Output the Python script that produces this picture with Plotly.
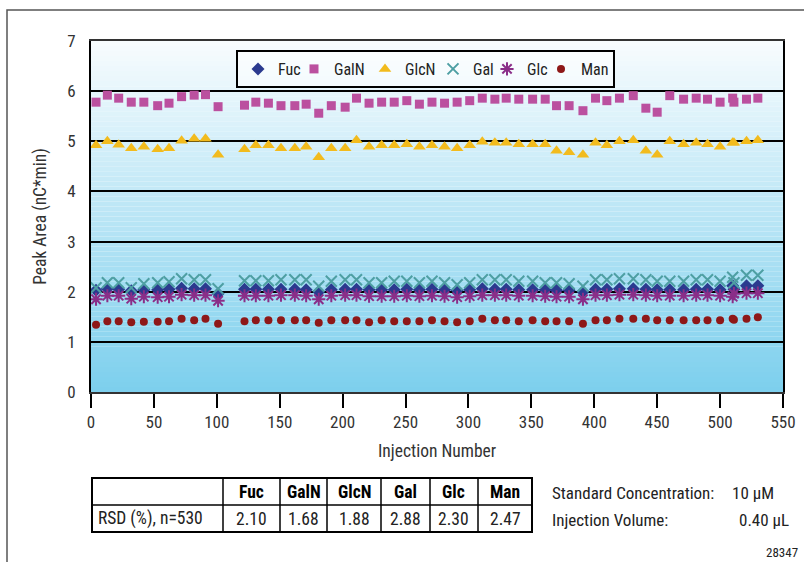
import plotly.graph_objects as go

# ---------------- data ----------------
injection = [4, 13, 22, 32, 42, 53, 62, 72, 82, 91, 101,
             122, 131, 141, 151, 162, 171, 181, 191, 202, 211, 221, 231, 241, 251, 261, 271,
             281, 291, 301, 311, 321, 330, 340, 351, 361, 370, 380, 391, 401, 410, 420, 431,
             441, 450, 460, 471, 481, 490, 500, 510, 511, 521, 530]

fuc = [2.03, 2.06, 2.05, 2.02, 2.04, 2.04, 2.05, 2.07, 2.06, 2.06, 1.96,
       2.05, 2.05, 2.05, 2.05, 2.05, 2.04, 2.00, 2.04, 2.05, 2.05, 2.04, 2.04, 2.04, 2.05, 2.04, 2.05,
       2.04, 2.03, 2.04, 2.06, 2.05, 2.05, 2.04, 2.04, 2.04, 2.03, 2.03, 2.00, 2.05, 2.05, 2.06, 2.06,
       2.05, 2.04, 2.04, 2.04, 2.05, 2.05, 2.04, 2.12, 2.05, 2.12, 2.12]

galn = [5.78, 5.92, 5.86, 5.78, 5.78, 5.71, 5.76, 5.89, 5.92, 5.93, 5.69,
        5.72, 5.78, 5.76, 5.71, 5.71, 5.74, 5.56, 5.71, 5.68, 5.86, 5.76, 5.78, 5.78, 5.81, 5.74, 5.78,
        5.76, 5.78, 5.81, 5.86, 5.84, 5.86, 5.84, 5.84, 5.84, 5.71, 5.71, 5.61, 5.86, 5.81, 5.86, 5.91,
        5.66, 5.58, 5.91, 5.84, 5.86, 5.84, 5.78, 5.86, 5.78, 5.84, 5.86]

glcn = [4.92, 5.00, 4.93, 4.86, 4.89, 4.84, 4.86, 5.01, 5.05, 5.05, 4.73,
        4.84, 4.92, 4.92, 4.86, 4.86, 4.89, 4.68, 4.86, 4.86, 5.02, 4.89, 4.92, 4.92, 4.94, 4.89, 4.92,
        4.89, 4.86, 4.92, 4.99, 4.97, 4.97, 4.94, 4.94, 4.94, 4.81, 4.78, 4.73, 4.97, 4.92, 5.00, 5.02,
        4.81, 4.73, 5.00, 4.94, 4.97, 4.94, 4.89, 4.97, 4.97, 5.00, 5.02]

gal = [2.08, 2.18, 2.18, 2.08, 2.16, 2.18, 2.20, 2.26, 2.24, 2.24, 2.06,
       2.22, 2.22, 2.22, 2.24, 2.24, 2.24, 2.11, 2.21, 2.24, 2.24, 2.18, 2.18, 2.21, 2.21, 2.18, 2.21,
       2.18, 2.14, 2.18, 2.24, 2.24, 2.24, 2.21, 2.21, 2.18, 2.18, 2.16, 2.11, 2.24, 2.24, 2.26, 2.26,
       2.24, 2.21, 2.21, 2.21, 2.24, 2.24, 2.21, 2.29, 2.18, 2.33, 2.33]

glc = [1.85, 1.92, 1.92, 1.86, 1.90, 1.89, 1.90, 1.94, 1.93, 1.93, 1.82,
       1.92, 1.92, 1.92, 1.93, 1.93, 1.92, 1.85, 1.92, 1.93, 1.93, 1.91, 1.91, 1.91, 1.92, 1.91, 1.92,
       1.91, 1.89, 1.91, 1.93, 1.93, 1.93, 1.92, 1.92, 1.91, 1.90, 1.90, 1.85, 1.93, 1.93, 1.94, 1.94,
       1.93, 1.92, 1.92, 1.92, 1.93, 1.93, 1.92, 1.90, 1.96, 1.97, 1.97]

man = [1.34, 1.41, 1.41, 1.39, 1.40, 1.40, 1.41, 1.46, 1.43, 1.46, 1.36,
       1.41, 1.43, 1.43, 1.43, 1.43, 1.43, 1.38, 1.43, 1.43, 1.43, 1.39, 1.43, 1.41, 1.41, 1.41, 1.43,
       1.41, 1.39, 1.41, 1.46, 1.43, 1.43, 1.41, 1.43, 1.41, 1.41, 1.41, 1.36, 1.43, 1.43, 1.46, 1.46,
       1.46, 1.43, 1.43, 1.43, 1.43, 1.43, 1.43, 1.46, 1.44, 1.46, 1.49]

table_header = ["", "Fuc", "GalN", "GlcN", "Gal", "Glc", "Man"]
table_row = ["RSD (%), n=530", "2.10", "1.68", "1.88", "2.88", "2.30", "2.47"]

x_ticks = list(range(0, 551, 50))
y_ticks = list(range(0, 8))

FONT = "Liberation Sans Narrow, Roboto Condensed, DejaVu Sans Condensed, Arial Narrow, sans-serif"

# ---------------- geometry helpers (pixel -> paper) ----------------
W, H = 804, 562
ML, MR, MT, MB = 91, 21, 41, 22
PW, PH = W - ML - MR, H - MT - MB


def px(x):
    return (x - ML) / PW


def py(y):
    return (H - MB - y) / PH


plot_bottom_px = 392

fig = go.Figure()

series = [
    ("Fuc", fuc, dict(symbol="diamond", size=10, color="#2b3a8f"), 11),
    ("GalN", galn, dict(symbol="square", size=9, color="#bb509f"), 26),
    ("GlcN", glcn, dict(symbol="triangle-up", size=11, color="#f2bb1d"), 23),
    ("Gal", gal, dict(symbol="x-thin-open", size=11, color="#4e9fa3", line=dict(color="#4e9fa3", width=2)), 9),
    ("Glc", glc, dict(symbol="asterisk-open", size=11, color="#8a2e88", line=dict(color="#8a2e88", width=2)), 9),
    ("Man", man, dict(symbol="circle", size=8, color="#8e1818"), 27),
]
for name, vals, mk, lw in series:
    fig.add_trace(go.Scatter(x=injection, y=vals, mode="markers", name=name,
                             marker=mk, cliponaxis=False, legendwidth=lw))

shapes = []
annotations = []

# gradient background in the plot area
N = 70
top_c = (248, 252, 254)
bot_c = (124, 207, 237)
for i in range(N):
    t = (i + 0.5) / N
    c = tuple(round(bot_c[k] + (top_c[k] - bot_c[k]) * t) for k in range(3))
    shapes.append(dict(type="rect", xref="x", yref="y", x0=0, x1=550,
                       y0=7 * i / N, y1=7 * (i + 1) / N, layer="below",
                       line=dict(width=0), fillcolor="rgb(%d,%d,%d)" % c))
# outer frame
shapes.append(dict(type="rect", xref="paper", yref="paper",
                   x0=px(7), x1=px(830), y0=py(10), y1=py(600),
                   line=dict(color="#555", width=1.5), fillcolor="rgba(0,0,0,0)", layer="below"))

# ---------------- RSD table (grid + cell texts from the arrays) ----------------
col_w = [131, 57, 47, 54, 49, 48, 54]
t_left, t_top, row_h = 92, 478, 27
edges = [t_left]
for w in col_w:
    edges.append(edges[-1] + w)
t_bot = t_top + 2 * row_h
for e in edges[1:-1]:
    shapes.append(dict(type="line", xref="paper", yref="paper", x0=px(e), x1=px(e),
                       y0=py(t_top), y1=py(t_bot), line=dict(color="black", width=1.5)))
shapes.append(dict(type="line", xref="paper", yref="paper", x0=px(edges[0]), x1=px(edges[-1]),
                   y0=py(t_top + row_h), y1=py(t_top + row_h), line=dict(color="black", width=1.5)))
shapes.append(dict(type="rect", xref="paper", yref="paper",
                   x0=px(edges[0]), x1=px(edges[-1]), y0=py(t_top), y1=py(t_bot),
                   line=dict(color="black", width=2), fillcolor="rgba(0,0,0,0)"))
TFS = 17.5
for i, (h, v) in enumerate(zip(table_header, table_row)):
    cx = (edges[i] + edges[i + 1]) / 2
    if h:
        annotations.append(dict(text="<b>%s</b>" % h, x=px(cx), y=py(t_top + row_h / 2),
                                xanchor="center", yanchor="middle",
                                font=dict(family=FONT, size=TFS, color="black")))
    if i == 0:
        annotations.append(dict(text=v, x=px(edges[0] + 4), y=py(t_top + 1.5 * row_h),
                                xanchor="left", yanchor="middle",
                                font=dict(family=FONT, size=TFS, color="#222")))
    else:
        annotations.append(dict(text=v, x=px(cx), y=py(t_top + 1.5 * row_h),
                                xanchor="center", yanchor="middle",
                                font=dict(family=FONT, size=TFS, color="#222")))

annotations += [
    dict(text="Standard Concentration:", x=px(550), y=py(493), xanchor="left", yanchor="middle"),
    dict(text="10 µM", x=px(730), y=py(493), xanchor="left", yanchor="middle"),
    dict(text="Injection Volume:", x=px(550), y=py(520), xanchor="left", yanchor="middle"),
    dict(text="0.40 µL", x=px(791), y=py(520), xanchor="right", yanchor="middle"),
    dict(text="28347", x=px(800), y=py(552), xanchor="right", yanchor="middle",
         font=dict(family=FONT, size=13, color="#222")),
]
for a in annotations:
    a.update(xref="paper", yref="paper", showarrow=False)
    a.setdefault("font", dict(family=FONT, size=17, color="#222"))

fig.update_layout(
    width=W, height=H,
    margin=dict(l=ML, r=MR, t=MT, b=MB, pad=0, autoexpand=False),
    paper_bgcolor="white", plot_bgcolor="rgba(0,0,0,0)",
    font=dict(family=FONT, size=16, color="#333"),
    showlegend=True,
    legend=dict(orientation="h", x=px(236), xanchor="left", y=py(50), yanchor="top",
                bordercolor="black", borderwidth=2, bgcolor="rgba(255,255,255,0.5)",
                font=dict(family=FONT, size=16, color="#222"),
                itemwidth=30, tracegroupgap=0),
    xaxis=dict(range=[0, 550], tickvals=x_ticks, ticks="outside", ticklen=14, tickwidth=2,
               tickcolor="black", showgrid=False, zeroline=False, automargin=False,
               showline=True, linecolor="#333", linewidth=1.5, mirror=True,
               tickfont=dict(family=FONT, size=17, color="#333"),
               title=dict(text="Injection Number", standoff=14,
                          font=dict(family=FONT, size=17.5, color="#333"))),
    yaxis=dict(range=[0, 7], tickvals=y_ticks, ticks="", showgrid=True, gridcolor="black",
               gridwidth=2, zeroline=False, showline=True, linecolor="black", linewidth=2,
               mirror=True, domain=[py(plot_bottom_px), 1], automargin=False,
               ticklabelstandoff=10,
               tickfont=dict(family=FONT, size=17, color="#333"),
               title=dict(text="Peak Area (nC*min)", standoff=16,
                          font=dict(family=FONT, size=17.5, color="#333"))),
    shapes=shapes,
    annotations=annotations,
)

fig.write_html("out.html", config={"displayModeBar": False},
               post_script="document.body.style.margin='0';document.body.style.overflow='hidden';")
